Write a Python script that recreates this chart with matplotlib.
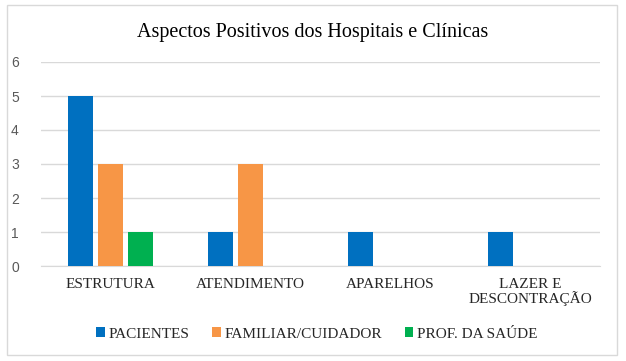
import matplotlib
matplotlib.use("Agg")
import matplotlib.pyplot as plt
import numpy as np
from matplotlib.patches import Rectangle

categories = ["ESTRUTURA", "ATENDIMENTO", "APARELHOS", "LAZER E\nDESCONTRAÇÃO"]
series_names = ["PACIENTES", "FAMILIAR/CUIDADOR", "PROF. DA SAÚDE"]
pacientes = [5, 1, 1, 1]
familiar = [3, 3, 0, 0]
prof = [1, 0, 0, 0]
colors = ["#0070C0", "#F79646", "#00B050"]
yticks = [0, 1, 2, 3, 4, 5, 6]

W, H = 626, 361
fig = plt.figure(figsize=(W / 100, H / 100), dpi=100)
fig.patches.append(Rectangle((7 / W, 6 / H), 610 / W, 350 / H, transform=fig.transFigure,
                             fill=False, edgecolor="#D9D9D9", linewidth=1))
ax = fig.add_axes([41 / W, (H - 266) / H, (600 - 41) / W, (266 - 62) / H])

x = np.arange(len(categories))
bw = 0.18
step = 0.215
for i, (vals, name, c) in enumerate(zip([pacientes, familiar, prof], series_names, colors)):
    ax.bar(x + (i - 1) * step, vals, width=bw, color=c, label=name, zorder=3)

ax.set_xlim(-0.5, len(categories) - 0.5)
ax.set_ylim(0, 6)
ax.set_yticks(yticks)
ax.yaxis.grid(True, color="#D9D9D9", linewidth=1, zorder=0)
for s in ["top", "right", "left"]:
    ax.spines[s].set_visible(False)
ax.spines["bottom"].set_color("#D9D9D9")
ax.tick_params(axis="both", length=0)
ax.tick_params(axis="y", labelcolor="#595959", labelsize=10, pad=16)
for lab in ax.get_yticklabels():
    lab.set_family("Liberation Sans")
ax.set_xticks(x)
ax.set_xticklabels(categories, family="Liberation Serif", fontsize=11, color="#262626", linespacing=1.0)
ax.tick_params(axis="x", pad=9)

fig.text(0.5, (H - 32) / H, "Aspectos Positivos dos Hospitais e Clínicas", ha="center", va="center",
         family="Liberation Serif", fontsize=14.5, color="black")

leg = fig.legend(loc="center", bbox_to_anchor=(317 / W, (H - 334) / H), ncol=3, frameon=False,
                 prop={"family": "Liberation Serif", "size": 11}, handlelength=0.55, handleheight=0.55,
                 handletextpad=0.25, columnspacing=1.5)
for t in leg.get_texts():
    t.set_color("#262626")

fig.savefig("out.png", dpi=100)
